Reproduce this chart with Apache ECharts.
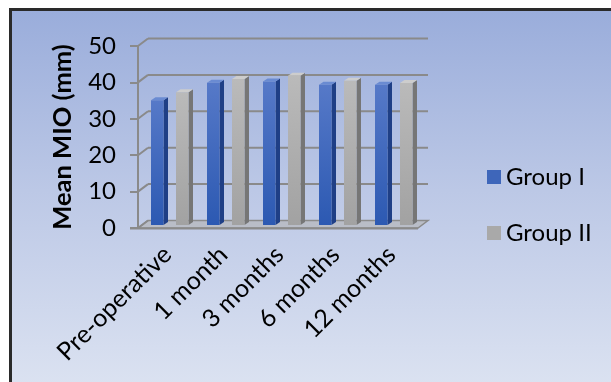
<!DOCTYPE html>
<html><head><meta charset="utf-8">
<script src="https://cdn.jsdelivr.net/npm/echarts@6/dist/echarts.min.js"></script>
<style>
html,body{margin:0;padding:0;background:#fff;width:611px;height:382px;overflow:hidden;}
#frame{position:absolute;left:9px;top:8px;width:700px;height:500px;border:3px solid #2a2a2a;
background:linear-gradient(180deg,#9aaddb 0px,#bcc8e6 180px,#dbe2f1 374px);}
#c{position:absolute;left:0;top:0;width:611px;height:382px;}
</style></head>
<body><div id="frame"></div><div id="c"></div>
<script>
const categories = ['Pre-operative','1 month','3 months','6 months','12 months'];
const groupI = [34.3, 39.1, 39.4, 38.5, 38.5];
const groupII = [36.5, 40.1, 41.0, 39.6, 39.0];
const yTicks = [0, 10, 20, 30, 40, 50];
const FONT = 'Lato';

const chart = echarts.init(document.getElementById('c'), null, {renderer:'canvas'});

const DX = 10, DY = 7.5; // wall depth
function wallRender(params, api){
  const cs = params.coordSys;
  const v = api.value(0);
  const p = api.coord([0, v]);
  const y = p[1];
  const x0 = cs.x;
  const children = [];
  const lineStyle = {stroke:'#8a8a8a', lineWidth:2};
  if (v === 0){
    children.push({type:'polygon', shape:{points:[[x0,y],[x0+DX,y-DY],[x0+cs.width+DX,y-DY],[x0+cs.width,y]]},
      style:{fill:'#b9bdc7', stroke:'#8a8a8a', lineWidth:1.5}});
    children.push({type:'line', shape:{x1:x0-8,y1:y+0.5,x2:x0+cs.width,y2:y+0.5}, style:{stroke:'#8a8a8a', lineWidth:2}});
  } else {
    children.push({type:'line', shape:{x1:x0+DX,y1:y-DY,x2:x0+cs.width+DX,y2:y-DY}, style:lineStyle});
  }
  children.push({type:'line', shape:{x1:x0,y1:y,x2:x0+DX,y2:y-DY}, style:lineStyle});
  return {type:'group', children};
}

function barRender(offsetX, face, side, topc){
  return function(params, api){
    const ci = api.value(0), v = api.value(1);
    const base = api.coord([ci, 0]);
    const top = api.coord([ci, v]);
    const w = 12.5, dx = 4.5, dy = 3;
    const x = base[0] + offsetX;
    const yb = base[1] - 3, yt = top[1] - 3;
    return {type:'group', children:[
      {type:'polygon', shape:{points:[[x+w,yt],[x+w+dx,yt-dy],[x+w+dx,yb-dy],[x+w,yb]]}, style:{fill:side}},
      {type:'polygon', shape:{points:[[x,yt],[x+dx,yt-dy],[x+w+dx,yt-dy],[x+w,yt]]}, style:{fill:topc}},
      {type:'rect', shape:{x:x, y:yt, width:w, height:yb-yt},
        style:{fill:new echarts.graphic.LinearGradient(0,0,0,1,[{offset:0,color:face[0]},{offset:1,color:face[1]}])}}
    ]};
  };
}

chart.setOption({
  animation:false,
  textStyle:{fontFamily:FONT},
  grid:{left:138, top:46, width:280, height:182, containLabel:false},
  legend:{
    orient:'vertical', left:482, top:160, itemWidth:14, itemHeight:14, itemGap:32, itemStyle:{borderWidth:0},
    textStyle:{fontFamily:FONT, fontSize:24, color:'#000'},
    data:[{name:'Group I', icon:'rect', itemStyle:{color:'#3e66ba'}},
          {name:'Group II', icon:'rect', itemStyle:{color:'#a9a9a9'}}]
  },
  xAxis:{
    type:'category', data:categories, boundaryGap:true,
    axisLine:{show:false}, axisTick:{show:false},
    axisLabel:{rotate:45, margin:24, padding:[0,-2,0,0], fontFamily:FONT, fontSize:25, color:'#000', interval:0}
  },
  yAxis:{
    type:'value', min:0, max:50, interval:10,
    name:'Mean MIO (mm)', nameLocation:'middle', nameGap:62, nameRotate:90,
    nameTextStyle:{fontFamily:FONT, fontSize:25.5, fontWeight:'bold', color:'#000'},
    axisLine:{show:true, lineStyle:{color:'#8a8a8a', width:2}},
    axisTick:{show:true, length:8, lineStyle:{color:'#8a8a8a', width:2}},
    splitLine:{show:false},
    axisLabel:{margin:22, fontFamily:FONT, fontSize:24, color:'#000'}
  },
  series:[
    {type:'custom', name:'walls', silent:true, z:1, renderItem:wallRender,
     data:yTicks.map(v=>[v]), encode:{y:0}},
    {type:'custom', name:'Group I', z:3, renderItem:barRender(-15, ['#5679c8','#2c59b2'], '#1f3f86', '#6a8bd2'),
     data:groupI.map((v,i)=>[i,v]), encode:{x:0,y:1}, itemStyle:{color:'#3e66ba'}},
    {type:'custom', name:'Group II', z:3, renderItem:barRender(10, ['#bababa','#a2a2a2'], '#767676', '#cdcdcd'),
     data:groupII.map((v,i)=>[i,v]), encode:{x:0,y:1}, itemStyle:{color:'#a9a9a9'}}
  ]
});
</script></body></html>
